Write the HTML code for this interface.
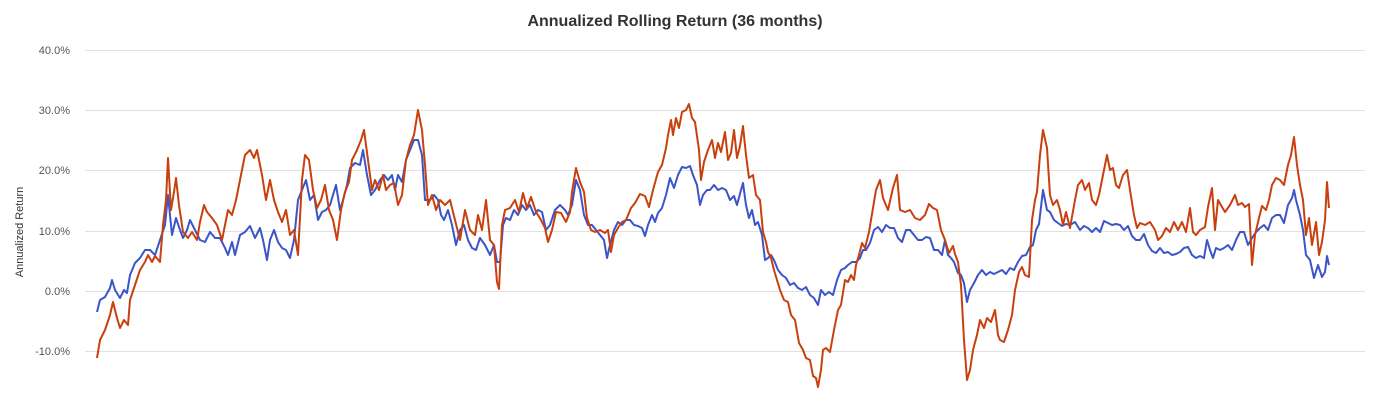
<!DOCTYPE html>
<html><head><meta charset="utf-8"><style>
body{margin:0;background:#fff;}
svg{display:block;font-family:"Liberation Sans",Arial,sans-serif;}
</style></head><body>
<svg width="1375" height="400" viewBox="0 0 1375 400">
<text x="675" y="26" text-anchor="middle" font-size="16" font-weight="bold" fill="#333">Annualized Rolling Return (36 months)</text>
<g stroke="#e0e0e0" stroke-width="1">
<line x1="85" x2="1365" y1="50.5" y2="50.5"/><line x1="85" x2="1365" y1="110.5" y2="110.5"/>
<line x1="85" x2="1365" y1="170.5" y2="170.5"/><line x1="85" x2="1365" y1="231.5" y2="231.5"/>
<line x1="85" x2="1365" y1="291.5" y2="291.5"/><line x1="85" x2="1365" y1="351.5" y2="351.5"/>
</g>
<g font-size="11" fill="#555" text-anchor="end">
<text x="70" y="54">40.0%</text><text x="70" y="114">30.0%</text><text x="70" y="174">20.0%</text>
<text x="70" y="235">10.0%</text><text x="70" y="295">0.0%</text><text x="70" y="355">-10.0%</text>
</g>
<text transform="translate(23,232) rotate(-90)" text-anchor="middle" font-size="11" fill="#333">Annualized Return</text>
<polyline fill="none" stroke="#3b55c9" stroke-width="2" stroke-linejoin="round" points="97,312 100,300 105,297 110,288 112,280 115,290 120,298 124,290 127,293 130,275 135,263 140,258 145,250 150,250 155,255 160,240 165,225 168,195 172,235 176,218 180,230 183,238 187,230 190,220 195,230 200,240 205,242 210,232 215,238 220,238 225,248 228,255 232,242 235,255 240,235 245,232 250,226 255,238 260,228 263,240 267,260 270,240 274,230 278,242 282,248 286,250 290,258 294,240 298,200 302,190 306,180 310,200 314,195 318,220 322,212 326,210 330,205 333,195 336,185 340,210 343,200 347,185 350,168 355,163 360,165 363,150 367,175 371,195 375,190 380,180 384,175 388,180 392,175 395,190 398,175 402,182 406,160 410,150 414,140 418,140 422,155 425,200 430,200 434,195 438,200 441,215 444,220 448,210 452,225 456,245 460,230 464,225 468,240 472,248 476,250 480,238 485,245 490,255 494,245 497,262 500,262 503,225 506,218 510,220 514,210 518,215 522,205 526,210 530,205 534,215 538,210 542,212 546,230 550,225 555,210 560,205 565,210 568,215 572,205 576,180 580,190 584,215 588,225 592,225 596,230 600,235 604,240 607,258 610,245 614,230 618,222 622,225 626,220 630,220 634,225 638,226 642,228 645,236 648,225 652,215 655,222 658,213 662,208 666,195 670,178 674,188 678,175 682,167 686,168 690,166 693,175 697,185 700,205 703,195 707,190 710,190 714,185 718,190 722,188 726,190 730,200 734,196 737,205 741,190 743,183 746,205 749,218 752,210 755,225 758,222 762,235 765,260 768,258 771,255 774,260 778,270 782,275 786,278 790,285 794,283 798,288 802,290 806,287 810,295 814,298 818,305 821,290 825,295 829,292 833,295 837,280 841,270 845,268 848,265 852,262 856,262 860,258 863,250 866,250 870,243 874,230 878,227 882,232 886,225 890,228 894,228 898,238 902,242 906,230 910,230 914,235 918,240 922,240 926,237 930,238 934,250 938,250 942,255 945,240 948,255 951,258 954,262 958,273 961,275 964,283 967,302 970,290 974,283 978,275 982,270 986,275 990,272 994,274 998,272 1002,270 1006,274 1010,268 1014,270 1018,262 1022,256 1026,255 1030,247 1033,245 1036,230 1039,224 1043,190 1047,210 1050,212 1054,220 1058,223 1062,226 1066,224 1070,225 1075,222 1080,230 1084,226 1088,228 1092,232 1096,228 1100,232 1104,221 1108,223 1112,225 1116,224 1120,225 1124,230 1128,226 1132,236 1136,240 1140,240 1144,234 1148,245 1152,251 1156,253 1160,248 1164,253 1168,252 1172,255 1176,254 1180,252 1184,248 1188,247 1192,255 1196,258 1200,256 1204,258 1207,240 1210,250 1213,258 1216,248 1220,250 1224,248 1228,245 1232,250 1236,240 1240,232 1244,232 1248,245 1252,238 1256,232 1260,228 1264,225 1268,230 1272,218 1276,215 1280,215 1284,223 1288,205 1292,198 1294,190 1296,200 1300,215 1303,230 1306,255 1310,260 1314,278 1318,265 1322,277 1325,272 1327,256 1329,265"/>
<polyline fill="none" stroke="#c8400e" stroke-width="2" stroke-linejoin="round" points="97,358 100,340 105,330 110,315 113,302 117,318 120,328 124,320 128,325 130,300 135,285 140,270 145,262 148,255 152,262 155,256 160,262 163,225 166,200 168,158 171,210 174,192 176,178 179,205 183,232 188,238 192,232 197,240 200,222 204,205 207,212 212,218 217,225 222,240 228,210 232,215 236,200 240,180 245,155 250,150 254,158 257,150 262,175 266,200 270,180 274,200 278,212 282,222 286,210 290,235 294,230 298,255 302,180 305,155 309,160 313,190 317,208 321,200 325,185 329,210 333,220 337,240 341,210 345,192 349,182 352,160 357,150 361,140 364,130 368,160 372,190 375,180 379,190 383,175 386,190 390,185 394,183 398,205 402,195 406,160 410,145 414,135 418,110 422,130 425,165 428,205 432,195 436,210 440,200 445,205 450,200 455,220 460,240 465,210 470,230 475,235 478,215 482,230 486,200 490,240 494,245 497,282 499,289 502,225 505,210 510,208 515,200 519,212 523,193 527,208 531,197 536,212 541,220 545,228 548,242 552,230 556,212 561,213 566,222 570,212 572,192 576,168 580,182 584,192 587,218 591,230 595,232 600,230 605,233 608,230 611,252 614,235 618,228 622,222 626,220 631,208 635,203 640,194 645,196 649,207 653,190 658,172 662,165 666,148 668,135 671,120 673,135 676,118 679,128 682,112 686,110 689,104 692,118 695,122 699,150 701,180 704,162 708,150 712,140 715,158 718,143 721,152 725,132 728,160 731,153 734,130 737,158 740,146 743,126 746,155 749,178 753,175 756,195 760,200 763,232 766,242 768,252 771,258 774,270 777,280 780,290 784,300 788,302 791,315 795,320 799,343 803,350 806,358 810,360 813,376 816,378 818,387 821,370 823,350 826,348 830,352 834,330 838,310 841,305 845,280 848,282 851,275 854,280 856,265 859,255 862,243 865,248 869,232 873,208 876,190 880,180 883,198 888,210 893,188 897,175 900,210 905,212 910,210 915,218 920,220 925,215 929,204 933,208 937,210 941,230 945,240 949,253 953,246 955,254 958,262 961,285 964,340 967,380 970,370 973,350 977,335 980,320 984,328 987,318 991,322 995,310 998,335 1000,340 1004,342 1008,330 1012,315 1015,290 1019,272 1022,267 1025,275 1029,277 1032,220 1035,200 1037,192 1040,155 1043,130 1047,148 1050,195 1053,205 1057,200 1060,210 1063,225 1066,212 1070,228 1075,200 1078,185 1082,180 1085,190 1089,183 1092,200 1096,205 1099,195 1102,180 1105,165 1107,155 1110,170 1113,168 1116,185 1119,188 1123,175 1127,170 1130,190 1134,215 1137,228 1140,223 1145,225 1150,222 1155,230 1158,240 1162,236 1166,228 1170,232 1174,222 1178,230 1182,222 1186,232 1190,208 1193,232 1196,235 1200,230 1205,227 1208,207 1212,188 1215,230 1218,200 1222,207 1225,212 1230,205 1235,195 1238,205 1242,203 1245,207 1249,204 1252,265 1255,235 1259,218 1262,206 1266,210 1269,200 1272,185 1276,178 1280,180 1284,185 1288,165 1291,155 1294,137 1297,165 1300,185 1303,200 1306,235 1309,218 1312,245 1316,222 1319,255 1322,242 1325,220 1327,182 1329,208"/>
</svg>
</body></html>
